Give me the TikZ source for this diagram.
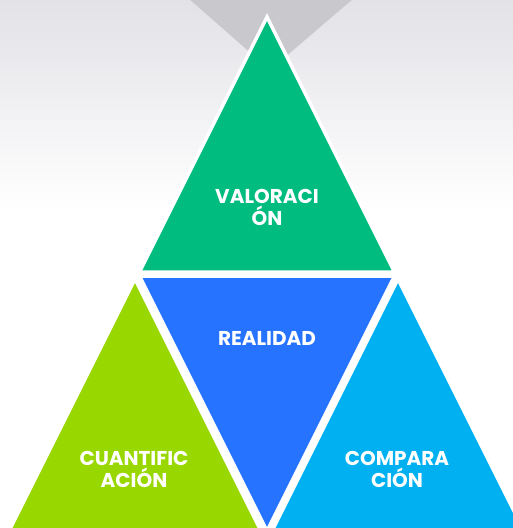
\documentclass[tikz,border=0pt]{standalone}
\usepackage{fontspec}
\setmainfont{Poppins}
\definecolor{bgtop}{RGB}{226,226,231}
\definecolor{shadowgray}{RGB}{200,200,205}
\definecolor{valgreen}{RGB}{0,188,126}
\definecolor{realblue}{RGB}{38,115,255}
\definecolor{cuanlime}{RGB}{153,215,0}
\definecolor{compcyan}{RGB}{0,176,240}
\begin{document}
\begin{tikzpicture}[x=1pt, y=-1pt]
  \useasboundingbox (0, 0) rectangle (513, 528);
  \clip (0, 0) rectangle (513, 528);
  \tikzstyle{tri}=[draw=white, line width=3.5pt, line join=miter]
  \tikzstyle{label}=[text=white, font=\bfseries\fontsize{20}{22}\selectfont, align=center, inner sep=0pt]

  % Hintergrund
  \shade [top color=bgtop, bottom color=white] (0, 0) rectangle (513, 210);
  \fill [shadowgray] (188, -2) -- (354, -2) -- (270, 70) -- cycle;

  \path [tri, fill=valgreen] (267, 17) -- (394.5, 272) -- (139.5, 272) -- cycle;
  \path [tri, fill=realblue] (139.5, 276) -- (394.5, 276) -- (267, 531) -- cycle;
  \path [tri, fill=cuanlime] (135, 279) -- (261, 531) -- (9, 531) -- cycle;
  \path [tri, fill=compcyan] (398, 279) -- (524, 531) -- (272, 531) -- cycle;

  \node[label] (val)  at (267, 207) {VALORACI\\ÓN};
  \node[label] (real) at (267, 338) {REALIDAD};
  \node[label] (cuan) at (134, 469) {CUANTIFIC\\ACIÓN};
  \node[label] (comp) at (397, 469) {COMPARA\\CIÓN};
\end{tikzpicture}
\end{document}
